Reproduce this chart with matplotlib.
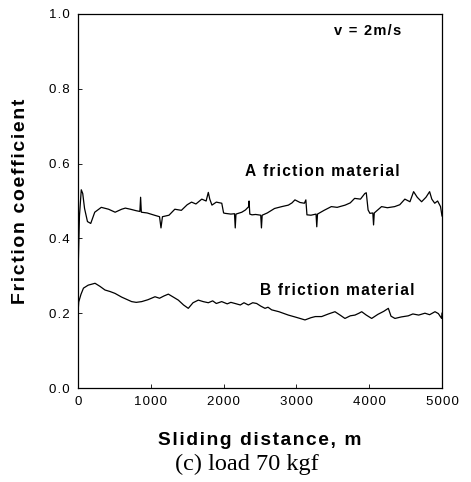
import numpy as np
import matplotlib.pyplot as plt

plt.rcParams['font.family'] = ['Liberation Sans', 'DejaVu Sans']

# A friction material
dist_a = [0, 20, 45, 65, 90, 130, 175, 230, 320, 420, 510, 600, 650, 720, 800, 850, 860, 870,
          950, 1050, 1120, 1140, 1160, 1250, 1330, 1420, 1500, 1560, 1620, 1700, 1760, 1790, 1810,
          1840, 1900, 1975, 2000, 2020, 2100, 2150, 2160, 2170, 2250, 2300, 2345, 2350, 2360,
          2390, 2440, 2510, 2520, 2530, 2600, 2700, 2800, 2890, 2940, 2980, 3050, 3110, 3130,
          3145, 3200, 3270, 3280, 3290, 3380, 3480, 3560, 3670, 3740, 3800, 3880, 3940, 3960,
          3985, 4010, 4050, 4060, 4070, 4170, 4250, 4350, 4420, 4490, 4560, 4610, 4660, 4720,
          4780, 4830, 4860, 4900, 4940, 4980, 5000]
mu_a = [0.30, 0.46, 0.53, 0.52, 0.48, 0.445, 0.44, 0.47, 0.483, 0.478, 0.47, 0.478, 0.481, 0.478,
        0.474, 0.472, 0.51, 0.47, 0.468, 0.462, 0.458, 0.428, 0.458, 0.462, 0.478, 0.475, 0.49,
        0.497, 0.492, 0.505, 0.50, 0.523, 0.505, 0.489, 0.497, 0.494, 0.468, 0.467, 0.465, 0.466,
        0.428, 0.465, 0.47, 0.476, 0.485, 0.50, 0.465, 0.463, 0.464, 0.462, 0.428, 0.462, 0.468,
        0.48, 0.485, 0.489, 0.495, 0.503, 0.496, 0.494, 0.503, 0.463, 0.462, 0.465, 0.431,
        0.465, 0.475, 0.485, 0.483, 0.489, 0.495, 0.507, 0.505, 0.52, 0.522, 0.476, 0.467,
        0.468, 0.436, 0.468, 0.485, 0.482, 0.485, 0.49, 0.505, 0.498, 0.525, 0.51, 0.498,
        0.51, 0.525, 0.505, 0.494, 0.50, 0.485, 0.46]

# B friction material
dist_b = [0, 10, 40, 75, 140, 234, 300, 371, 440, 508, 600, 737, 800, 875, 960, 1058, 1120,
          1180, 1241, 1310, 1378, 1450, 1515, 1580, 1653, 1720, 1790, 1850, 1900, 1974, 2050,
          2100, 2157, 2230, 2280, 2340, 2400, 2454, 2510, 2569, 2610, 2660, 2760, 2889, 2980,
          3050, 3118, 3200, 3260, 3347, 3440, 3530, 3600, 3667, 3740, 3805, 3860, 3897, 3960,
          4034, 4120, 4200, 4263, 4300, 4354, 4440, 4537, 4600, 4680, 4766, 4830, 4904, 4950,
          4995, 5000]
mu_b = [0.20, 0.23, 0.25, 0.267, 0.275, 0.28, 0.272, 0.262, 0.258, 0.253, 0.243, 0.231, 0.229,
        0.231, 0.236, 0.244, 0.24, 0.246, 0.251, 0.243, 0.235, 0.222, 0.213, 0.228, 0.235, 0.231,
        0.228, 0.233, 0.226, 0.231, 0.225, 0.229, 0.226, 0.222, 0.228, 0.222, 0.228, 0.226, 0.219,
        0.213, 0.216, 0.209, 0.204, 0.195, 0.19, 0.186, 0.182, 0.188, 0.191, 0.191, 0.198, 0.204,
        0.195, 0.186, 0.193, 0.195, 0.2, 0.204, 0.195, 0.186, 0.197, 0.205, 0.213, 0.192, 0.186,
        0.19, 0.193, 0.198, 0.195, 0.2, 0.196, 0.204, 0.199, 0.186, 0.2]

x_ticks = [0, 1000, 2000, 3000, 4000, 5000]
y_ticks = [0.0, 0.2, 0.4, 0.6, 0.8, 1.0]


def spaced(s):
    # the scanned labels are letter-spaced; hair spaces between glyphs
    return '\u200a'.join(s)


fig = plt.figure(figsize=(4.71, 4.82), dpi=100)
ax = fig.add_axes([0.1656, 0.195, 0.7728, 0.776])

ax.plot(dist_a, mu_a, color='black', linewidth=0.9)
ax.plot(dist_b, mu_b, color='black', linewidth=0.9)

ax.set_xlim(0, 5000)
ax.set_ylim(0, 1.0)
ax.set_xticks(x_ticks)
ax.set_xticklabels([spaced(str(v)) for v in x_ticks])
ax.set_yticks(y_ticks)
ax.set_yticklabels([spaced(f'{v:.1f}') for v in y_ticks])
ax.tick_params(direction='in', length=3, width=0.6, labelsize=9.5, pad=6)
for s in ax.spines.values():
    s.set_linewidth(0.9)

ax.text(3520, 0.955, spaced('v = 2m/s'), fontsize=10.5, fontweight='bold', ha='left', va='center')
ax.text(2300, 0.578, spaced('A friction material'), fontsize=11.2, fontweight='bold',
        ha='left', va='center')
ax.text(2495, 0.262, spaced('B friction material'), fontsize=11.2, fontweight='bold',
        ha='left', va='center')

ax.set_xlabel(spaced('Sliding distance, m'), fontsize=13.8, fontweight='bold', labelpad=17)
ax.set_ylabel(spaced('Friction coefficient'), fontsize=14, fontweight='bold', labelpad=14)

fig.text(0.525, 0.037, '(c) load 70 kgf', fontsize=17.5, family='Liberation Serif',
         ha='center', va='center')

fig.savefig('out.png', dpi=100)
